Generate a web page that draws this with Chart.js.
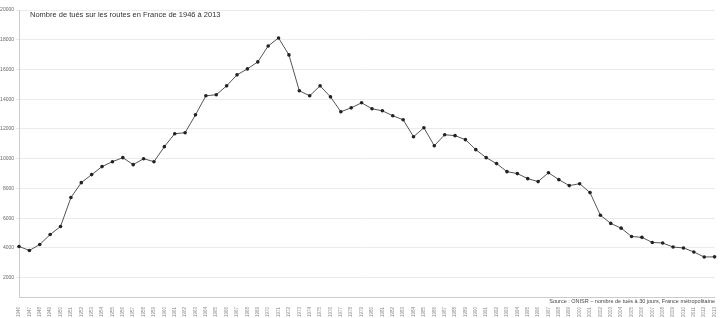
<!DOCTYPE html>
<html>
<head>
<meta charset="utf-8">
<script src="https://cdn.jsdelivr.net/npm/chart.js@4.4.0/dist/chart.umd.min.js"></script>
<style>
  html, body { margin: 0; padding: 0; background: #fff; }
  #box { width: 722px; height: 318px; }
</style>
</head>
<body>
<div id="box"><canvas id="tuesChart"></canvas></div>
<script>
var annees = [];
for (let a = 1946; a <= 2013; a++) {
    annees.push(String(a));
}

var tues = [
    4100, 3830, 4230, 4900, 5440, 7390, 8390, 8930, 9470, 9800,
    10070, 9600, 10000, 9800, 10810, 11680, 11750, 12950, 14230, 14300,
    14900, 15640, 16040, 16510, 17580, 18120, 16980, 14570, 14230, 14900,
    14160, 13160, 13420, 13760, 13360, 13220, 12890, 12620, 11480, 12080,
    10870, 11610, 11550, 11280, 10610, 10070, 9670, 9130, 9000, 8660,
    8460, 9060, 8590, 8190, 8320, 7720, 6200, 5650, 5330, 4770,
    4710, 4370, 4330, 4060, 4000, 3730, 3390, 3400
];

var graduations = [2000, 4000, 6000, 8000, 10000, 12000, 14000, 16000, 18000, 20000];

var titre = 'Nombre de tués sur les routes en France de 1946 à 2013';
var source = 'Source : ONISR – nombre de tués à 30 jours, France métropolitaine';

var tuesCtx = document.getElementById('tuesChart').getContext('2d');

// titre et source dessinés dans la zone du graphique
var textes = {
    id: 'textes',
    afterDraw: function (chart) {
        var c = chart.ctx;
        c.save();
        c.fillStyle = '#333';
        c.font = '7.5px "Liberation Sans", Arial, sans-serif';
        c.textBaseline = 'middle';
        c.textAlign = 'left';
        c.fillText(titre, 30, 15);
        c.font = '5.5px "Liberation Sans", Arial, sans-serif';
        c.textAlign = 'right';
        c.fillStyle = '#444';
        c.fillText(source, 715, 301);
        c.restore();
    }
};

var tuesChart = new Chart(tuesCtx, {
    type: 'line',
    data: {
        labels: annees,
        datasets: [
            {
                label: 'Tués',
                data: tues,
                borderColor: '#555',
                borderWidth: 1,
                pointBackgroundColor: '#222',
                pointBorderColor: '#222',
                pointRadius: 1.8,
                pointBorderWidth: 0,
                tension: 0
            }
        ]
    },
    options: {
        responsive: true,
        maintainAspectRatio: false,
        animation: false,
        layout: {
            padding: {
                left: 0,
                right: 3,
                top: 10,
                bottom: 0
            }
        },
        scales: {
            x: {
                offset: false,
                afterFit: function (scale) { scale.height = 21; },
                ticks: {
                    autoSkip: false,
                    maxRotation: 90,
                    minRotation: 90,
                    padding: 2,
                    color: '#888',
                    font: { size: 4.5 }
                },
                grid: {
                    display: false
                },
                border: {
                    color: '#ccc'
                }
            },
            y: {
                min: 700,
                max: 20000,
                afterFit: function (scale) { scale.width = 19; },
                afterBuildTicks: function (scale) {
                    scale.ticks = graduations.map(function (v) { return { value: v }; });
                },
                ticks: {
                    padding: 2,
                    color: '#666',
                    font: { size: 5 },
                    callback: function (v) { return String(v); }
                },
                grid: {
                    color: '#ebebeb',
                    tickLength: 3
                },
                border: {
                    color: '#ccc'
                }
            }
        },
        plugins: {
            legend: { display: false },
            title: { display: false },
            tooltip: { enabled: false }
        }
    },
    plugins: [textes]
});
</script>
</body>
</html>
